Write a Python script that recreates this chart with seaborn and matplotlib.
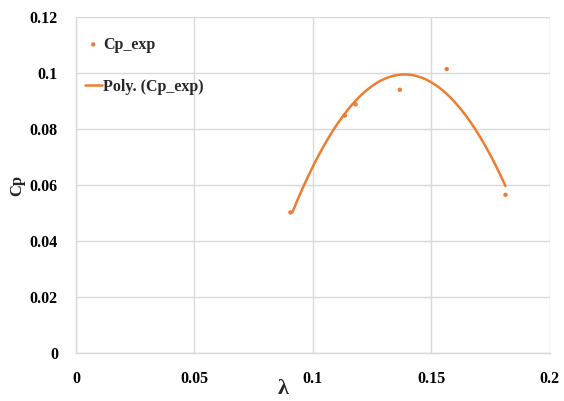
import numpy as np
import pandas as pd
import matplotlib
matplotlib.use("Agg")
import matplotlib.pyplot as plt
import seaborn as sns

# Measured tip-speed ratio and power coefficient
tsr = [0.0905, 0.1135, 0.118, 0.1367, 0.1565, 0.1813]
cp = [0.0502, 0.0848, 0.0888, 0.0940, 0.1014, 0.0565]
xticks = [0, 0.05, 0.1, 0.15, 0.2]
yticks = [0, 0.02, 0.04, 0.06, 0.08, 0.1, 0.12]
xtick_labels = ["0", "0.05", "0.1", "0.15", "0.2"]
ytick_labels = ["0", "0.02", "0.04", "0.06", "0.08", "0.1", "0.12"]

df = pd.DataFrame({"lambda": tsr, "Cp": cp})

sns.set_theme(style="white")
plt.rcParams["font.family"] = ["Liberation Serif", "DejaVu Serif"]

orange = "#ED7D31"

fig = plt.figure(figsize=(5.64, 4.01), dpi=100)
ax = fig.add_axes([0.1348, 0.1197, 0.840, 0.8379])

# Second-order polynomial trendline over the measured range
coef = np.polyfit(df["lambda"], df["Cp"], 2)
xs = np.linspace(df["lambda"].min() + 0.0008, df["lambda"].max(), 200)
fit = pd.DataFrame({"lambda": xs, "Cp": np.polyval(coef, xs)})

sns.scatterplot(data=df, x="lambda", y="Cp", ax=ax, color=orange, s=10,
                edgecolor="none", label="Cp_exp", zorder=3)
sns.lineplot(data=fit, x="lambda", y="Cp", ax=ax, color=orange, lw=1.8,
             label="Poly. (Cp_exp)", zorder=2)

ax.set_xlim(0, 0.2)
ax.set_ylim(0, 0.12)
ax.set_xticks(xticks)
ax.set_xticklabels(xtick_labels)
ax.set_yticks(yticks)
ax.set_yticklabels(ytick_labels)
ax.grid(True, color="#d9d9d9", lw=1.0)
ax.set_axisbelow(True)
for side in ["top", "right"]:
    ax.spines[side].set_visible(False)
for side in ["left", "bottom"]:
    ax.spines[side].set_color("#d9d9d9")
    ax.spines[side].set_linewidth(1.0)

ax.tick_params(axis="both", length=0, labelsize=11.5, colors="black")
ax.tick_params(axis="y", pad=13)
ax.tick_params(axis="x", pad=13)
for lab in ax.get_xticklabels() + ax.get_yticklabels():
    lab.set_fontweight("bold")

ax.set_xlabel("λ", fontsize=16, fontweight="bold")
ax.xaxis.set_label_coords(0.437, -0.078)
ax.set_ylabel("Cp", fontsize=12, fontweight="bold")
ax.yaxis.set_label_coords(-0.108, 0.5)

leg = ax.legend(loc="upper left", bbox_to_anchor=(-0.005, 0.975), frameon=False,
                prop={"weight": "bold", "size": 11.5}, labelspacing=1.65,
                handlelength=1.05, handletextpad=0.1, markerscale=1.0,
                borderaxespad=0.3)

fig.savefig("out.png", dpi=100)
